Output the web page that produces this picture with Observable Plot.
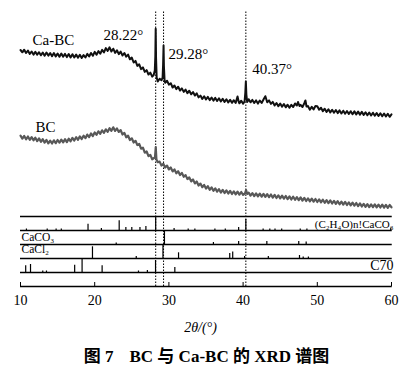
<!DOCTYPE html>
<html><head><meta charset="utf-8">
<script src="https://cdn.jsdelivr.net/npm/d3@7"></script>
<script src="https://cdn.jsdelivr.net/npm/@observablehq/plot@0.6"></script>
<style>
body{margin:0;background:#fff;}
#cap{font-family:"Liberation Serif","Noto Sans CJK SC",serif;font-weight:bold;font-size:17px;line-height:24px;width:413px;text-align:center;color:#000;white-space:pre;}
</style></head><body><div id="chart"></div><div id="cap"><span>图 7</span><span style="margin-left:16px">BC 与 Ca-BC 的 XRD 谱图</span></div>
<script>
// Ca-BC pattern: [2θ (°), offset intensity (a.u.)]
const caBC = [[10.00,236.5],[10.25,234.2],[10.50,236.8],[10.75,233.5],[11.00,235.9],[11.25,232.6],[11.50,235.0],[11.75,231.9],[12.00,234.6],[12.25,231.8],[12.50,234.3],[12.75,231.2],[13.00,233.9],[13.25,230.8],[13.50,234.0],[13.75,230.9],[14.00,233.4],[14.25,230.3],[14.50,233.5],[14.75,230.1],[15.00,233.0],[15.25,229.7],[15.50,232.9],[15.75,229.8],[16.00,232.6],[16.25,229.4],[16.50,232.5],[16.75,229.1],[17.00,232.3],[17.25,229.0],[17.50,231.9],[17.75,228.8],[18.00,231.7],[18.25,228.6],[18.50,231.4],[18.75,229.0],[19.00,232.6],[19.25,230.0],[19.50,233.5],[19.75,230.7],[20.00,234.6],[20.25,231.8],[20.50,235.4],[20.75,232.7],[21.00,236.6],[21.25,234.1],[21.50,238.4],[21.75,235.6],[22.00,239.2],[22.25,235.0],[22.50,237.8],[22.75,233.6],[23.00,236.2],[23.25,232.4],[23.50,234.9],[23.75,231.0],[24.00,233.5],[24.25,229.8],[24.50,231.9],[24.75,227.2],[25.00,228.9],[25.25,224.0],[25.50,225.6],[25.75,220.6],[26.00,222.1],[26.25,217.4],[26.50,219.1],[26.75,214.6],[27.00,216.4],[27.25,212.0],[27.50,213.9],[27.75,209.8],[27.95,211.5],[28.10,216.0],[28.17,230.0],[28.22,257.7],[28.27,228.0],[28.35,209.0],[28.50,205.0],[28.75,207.8],[29.00,206.2],[29.15,209.0],[29.22,222.0],[29.28,241.0],[29.33,220.0],[29.42,206.0],[29.50,203.8],[29.75,205.8],[30.00,201.9],[30.25,203.3],[30.50,199.0],[30.75,201.0],[31.00,197.4],[31.25,199.8],[31.50,196.0],[31.75,198.1],[32.00,194.6],[32.25,196.9],[32.50,193.3],[32.75,195.8],[33.00,192.2],[33.25,194.4],[33.50,191.0],[33.75,193.2],[34.00,189.1],[34.25,190.9],[34.50,187.6],[34.75,190.2],[35.00,187.0],[35.25,189.6],[35.50,186.4],[35.75,189.0],[36.00,185.9],[36.25,188.6],[36.50,185.5],[36.75,188.2],[37.00,185.0],[37.25,187.7],[37.50,184.6],[37.75,187.3],[38.00,184.1],[38.25,186.8],[38.50,183.7],[38.75,186.3],[39.00,183.6],[39.25,190.0],[39.40,185.0],[39.50,183.2],[39.75,185.8],[40.00,182.9],[40.20,185.0],[40.30,194.0],[40.37,205.0],[40.44,192.0],[40.55,184.5],[40.75,187.3],[41.00,184.2],[41.25,186.6],[41.50,183.5],[41.75,186.1],[42.00,182.9],[42.25,186.0],[42.50,183.6],[42.75,187.0],[43.00,190.3],[43.25,184.2],[43.50,186.1],[43.75,182.6],[44.00,184.6],[44.25,181.0],[44.50,183.5],[44.75,180.3],[45.00,182.9],[45.25,179.8],[45.50,182.4],[45.75,179.2],[46.00,181.8],[46.25,178.7],[46.50,181.7],[46.75,179.5],[47.00,183.0],[47.25,181.0],[47.40,184.5],[47.60,180.5],[47.75,181.6],[48.00,179.5],[48.25,183.3],[48.40,186.0],[48.55,180.0],[48.75,180.4],[49.00,176.8],[49.25,179.7],[49.50,177.1],[49.75,180.5],[50.00,180.3],[50.25,176.8],[50.50,178.7],[50.75,175.3],[51.00,177.8],[51.25,174.6],[51.50,177.2],[51.75,174.1],[52.00,176.8],[52.25,173.8],[52.50,176.5],[52.75,173.4],[53.00,176.1],[53.25,173.0],[53.50,175.8],[53.75,172.8],[54.00,175.5],[54.25,172.5],[54.50,175.3],[54.75,172.3],[55.00,175.1],[55.25,172.1],[55.50,174.9],[55.75,171.9],[56.00,174.6],[56.25,171.6],[56.50,174.3],[56.75,171.2],[57.00,174.0],[57.25,171.0],[57.50,173.8],[57.75,170.8],[58.00,173.4],[58.25,170.5],[58.50,173.2],[58.75,170.2],[59.00,173.0],[59.25,170.0],[59.50,172.7],[59.75,169.7],[60.00,172.2]];

// BC pattern
const bc = [[10.00,150.8],[10.25,147.9],[10.50,150.5],[10.75,147.2],[11.00,150.0],[11.25,146.7],[11.50,149.4],[11.75,146.2],[12.00,148.8],[12.25,145.4],[12.50,148.1],[12.75,144.7],[13.00,147.3],[13.25,143.9],[13.50,146.5],[13.75,143.1],[14.00,145.8],[14.25,143.0],[14.50,146.2],[14.75,143.3],[15.00,146.5],[15.25,143.8],[15.50,146.9],[15.75,144.1],[16.00,147.3],[16.25,144.4],[16.50,147.8],[16.75,145.2],[17.00,148.6],[17.25,146.0],[17.50,149.3],[17.75,146.7],[18.00,150.1],[18.25,147.5],[18.50,150.8],[18.75,148.3],[19.00,151.9],[19.25,149.4],[19.50,153.0],[19.75,150.5],[20.00,154.1],[20.25,151.7],[20.50,155.2],[20.75,152.7],[21.00,156.2],[21.25,153.7],[21.50,157.2],[21.75,154.7],[22.00,158.3],[22.25,155.7],[22.50,159.2],[22.75,155.6],[23.00,158.1],[23.25,154.6],[23.50,156.4],[23.75,152.0],[24.00,153.6],[24.25,149.2],[24.50,150.8],[24.75,146.5],[25.00,148.2],[25.25,144.0],[25.50,145.7],[25.75,141.4],[26.00,142.7],[26.25,137.8],[26.50,138.8],[26.75,133.9],[27.00,135.0],[27.25,130.3],[27.50,131.7],[27.75,127.2],[28.00,128.5],[28.12,129.0],[28.23,139.3],[28.32,127.0],[28.50,124.3],[28.75,124.9],[29.00,120.9],[29.25,122.8],[29.50,118.9],[29.75,120.9],[30.00,117.1],[30.25,119.0],[30.50,115.1],[30.75,117.1],[31.00,113.2],[31.25,115.3],[31.50,111.5],[31.75,113.6],[32.00,109.7],[32.25,111.4],[32.50,107.4],[32.75,109.1],[33.00,105.1],[33.25,107.0],[33.50,103.1],[33.75,105.0],[34.00,101.0],[34.25,102.9],[34.50,99.3],[34.75,101.6],[35.00,98.0],[35.25,100.3],[35.50,96.7],[35.75,99.1],[36.00,95.7],[36.25,98.2],[36.50,94.8],[36.75,97.3],[37.00,94.0],[37.25,96.6],[37.50,93.5],[37.75,96.1],[38.00,93.0],[38.25,95.6],[38.50,92.5],[38.75,95.2],[39.00,92.1],[39.25,94.9],[39.50,91.8],[39.75,94.5],[40.00,91.6],[40.25,93.0],[40.40,96.5],[40.55,92.5],[40.75,93.8],[41.00,90.9],[41.25,93.4],[41.50,90.4],[41.75,93.1],[42.00,90.1],[42.25,92.8],[42.50,89.8],[42.75,92.6],[43.00,89.6],[43.25,92.4],[43.50,89.3],[43.75,92.0],[44.00,88.9],[44.25,91.6],[44.50,88.5],[44.75,91.2],[45.00,88.1],[45.25,90.8],[45.50,87.8],[45.75,90.5],[46.00,87.4],[46.25,90.1],[46.50,87.0],[46.75,89.8],[47.00,86.7],[47.25,89.4],[47.50,86.3],[47.75,89.1],[48.00,85.9],[48.25,88.6],[48.50,85.5],[48.75,88.2],[49.00,85.1],[49.25,87.8],[49.50,84.8],[49.75,87.5],[50.00,84.5],[50.25,87.2],[50.50,84.1],[50.75,86.8],[51.00,83.7],[51.25,86.4],[51.50,83.3],[51.75,86.1],[52.00,83.0],[52.25,85.7],[52.50,82.6],[52.75,85.3],[53.00,82.2],[53.25,84.9],[53.50,81.9],[53.75,84.6],[54.00,81.5],[54.25,84.2],[54.50,81.1],[54.75,83.8],[55.00,80.8],[55.25,83.5],[55.50,80.4],[55.75,83.1],[56.00,80.0],[56.25,82.7],[56.50,79.6],[56.75,82.4],[57.00,79.4],[57.25,82.2],[57.50,79.3],[57.75,82.1],[58.00,79.1],[58.25,81.9],[58.50,79.0],[58.75,81.8],[59.00,78.8],[59.25,81.6],[59.50,78.7],[59.75,81.5],[60.00,79.2]];

// marked peaks
const peakPositions = [28.22, 29.28, 40.37];
const peakLabels = ["28.22°", "29.28°", "40.37°"];

// reference stick patterns (2θ, relative height out of 14)
const refNames = ["(C₂H₄O)n!CaCO₃", "CaCO₃", "CaCl₂", "C70"];
const ref1Pos = [10.8, 13.6, 14.8, 15.5, 19.1, 20.9, 23.3, 24.2, 25.0, 26.1, 26.9, 28.22, 30.7, 32.6, 33.5, 36.2, 37.6, 39.4, 40.37, 42.7, 43.6, 44.3, 45.2, 47.7, 48.6, 59.9];
const ref1H   = [1.5, 1.5, 1.5, 1.5, 6.3, 2, 9.7, 3, 3, 3, 4, 14, 2, 1.5, 1.5, 1.5, 1.5, 3, 11, 1.5, 1.5, 1.5, 1.5, 1.5, 1.5, 2.5];
const ref2Pos = [22.9, 29.4, 36.0, 39.4, 43.2, 47.5, 48.5];
const ref2H   = [1.5, 14, 2, 3, 3, 3, 2.5];
const ref3Pos = [19.7, 25.6, 29.2, 31.3, 38.2, 38.6, 40.2, 43.4, 47.6, 48.1, 48.8];
const ref3H   = [11.7, 2, 14, 5.7, 5, 6.5, 2, 2, 3, 1.5, 1.5];
const ref4Pos = [10.7, 11.35, 13.0, 13.5, 17.3, 18.3, 21.0, 25.9, 27.1, 28.2, 30.8];
const ref4H   = [6.7, 8, 1.5, 1.5, 7.3, 14, 6.7, 1.5, 2, 12, 5];

const xTicks = [10, 20, 30, 40, 50, 60];

// layout
const refBases = [56, 42, 28, 14];
const refSets = [[ref1Pos, ref1H], [ref2Pos, ref2H], [ref3Pos, ref3H], [ref4Pos, ref4H]];
const sticks = refSets.flatMap(([p, h], i) => p.map((x, j) => ({x, y1: refBases[i], y2: refBases[i] + h[j]})));
const rows = a => a.map(([x, y]) => ({x, y}));
const FONT = "'Liberation Serif', 'Times New Roman', serif";

const chart = Plot.plot({
  width: 413, height: 345,
  marginLeft: 20, marginRight: 22, marginTop: 0, marginBottom: 59,
  style: {fontSize: "14px", background: "white", color: "#000"},
  x: {domain: [10, 60]},
  y: {domain: [0, 286], axis: null},
  marks: [
    Plot.axisX({ticks: xTicks, tickSize: 0, tickPadding: 9, label: null, fontSize: 14}),
    Plot.ruleY([0, 14, 28, 42, 56, 70], {x1: 10, x2: 60.1, stroke: "#000", strokeWidth: 1.3}),
    Plot.ruleX(xTicks, {y1: 0, y2: 4, stroke: "#000", strokeWidth: 1}),
    Plot.ruleX(sticks, {x: "x", y1: "y1", y2: "y2", stroke: "#000", strokeWidth: 1.2}),
    Plot.ruleX(peakPositions, {y1: 0, y2: 276, stroke: "#000", strokeWidth: 1, strokeDasharray: "1.5,1.5"}),
    Plot.line(rows(bc), {x: "x", y: "y", stroke: "#585858", strokeWidth: 2.2}),
    Plot.line(rows(caBC), {x: "x", y: "y", stroke: "#111", strokeWidth: 2}),
    Plot.text(["Ca-BC"], {x: 11.62, y: 246.5, text: d => d, textAnchor: "start", lineAnchor: "middle", fontSize: 15, fill: "#000"}),
    Plot.text(["BC"], {x: 12.02, y: 159.3, text: d => d, textAnchor: "start", lineAnchor: "middle", fontSize: 15, fill: "#000"}),
    Plot.text(peakLabels, {x: [21.19, 29.95, 41.23], y: [251, 232.7, 217], text: d => d, textAnchor: "start", lineAnchor: "middle", fontSize: 15, fill: "#000"}),
    Plot.text([refNames[0]], {x: 60.27, y: 62, text: d => d, textAnchor: "end", lineAnchor: "middle", fontSize: 11, fill: "#000"}),
    Plot.text([refNames[1]], {x: 10.13, y: 49.5, text: d => d, textAnchor: "start", lineAnchor: "middle", fontSize: 11.5, fill: "#000"}),
    Plot.text([refNames[2]], {x: 10.13, y: 37, text: d => d, textAnchor: "start", lineAnchor: "middle", fontSize: 11.5, fill: "#000"}),
    Plot.text([refNames[3]], {x: 60.27, y: 21, text: d => d, textAnchor: "end", lineAnchor: "middle", fontSize: 14, fill: "#000"}),
    Plot.text(["2θ/(°)"], {x: 34.26, frameAnchor: "bottom", dy: 41, text: d => d, lineAnchor: "middle", fontSize: 14, fontStyle: "italic", fill: "#000"})
  ]
});
d3.select(chart).attr("font-family", FONT).style("font-family", FONT);
d3.select(chart).selectAll("g, text, tspan").attr("font-family", FONT).style("font-family", FONT);
document.getElementById("chart").appendChild(chart);
</script></body></html>
